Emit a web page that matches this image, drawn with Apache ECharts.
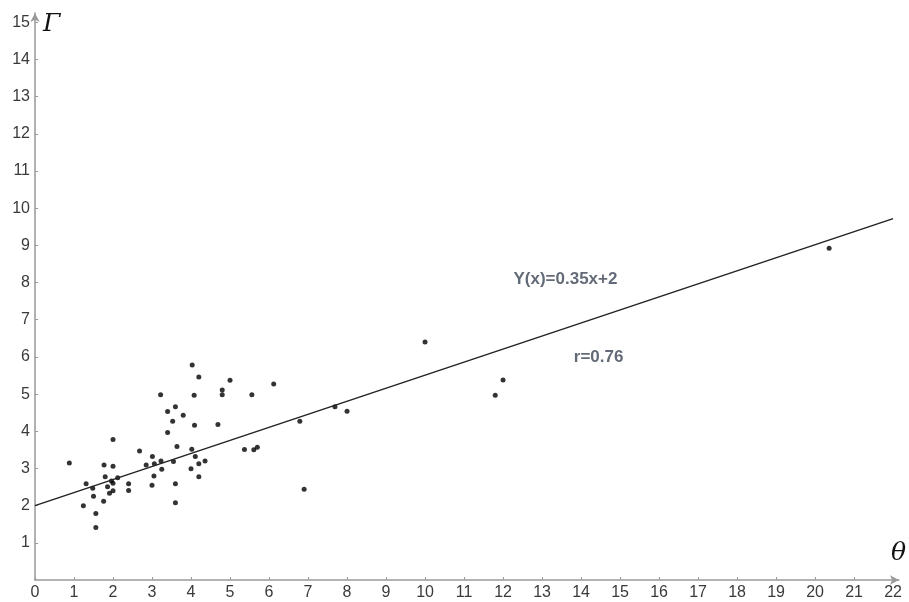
<!DOCTYPE html>
<html>
<head>
<meta charset="utf-8">
<script src="https://cdn.jsdelivr.net/npm/echarts@6/dist/echarts.min.js"></script>
<style>
    html, body { margin: 0; padding: 0; background: #fff; }
    #scatterChart { width: 909px; height: 602px; }
</style>
</head>
<body>
<div id="scatterChart"></div>
<script>
    // measured points (theta, gamma)
    let thetaValues = [4.03, 4.2, 3.22, 4.08, 3.6, 3.4, 3.8, 3.53, 4.09, 3.4, 4.69, 2.0, 3.64, 4.02, 2.68,
        0.88, 1.77, 2.0, 3.01, 2.85, 3.06, 3.23, 3.55, 4.11, 4.36, 4.2, 3.25, 4.0, 3.05, 4.2,
        1.8, 2.12, 1.96, 2.0, 1.31, 2.4, 1.86, 3.0, 3.6, 1.48, 2.0, 1.91, 2.4, 1.5, 1.76,
        1.24, 3.6, 1.56, 1.56, 5.0, 6.12, 4.8, 4.8, 5.56, 5.37, 5.61, 5.7, 6.79, 7.69, 8.0,
        6.9, 10.0, 12.0, 11.8, 20.36]
    let gammaValues = [5.78, 5.46, 4.98, 4.97, 4.66, 4.53, 4.43, 4.27, 4.16, 3.97, 4.18, 3.78, 3.59, 3.52, 3.47,
        3.15, 3.09, 3.06, 3.32, 3.09, 3.13, 3.2, 3.19, 3.32, 3.2, 3.13, 2.98, 2.99, 2.8, 2.78,
        2.78, 2.75, 2.66, 2.6, 2.59, 2.59, 2.51, 2.55, 2.59, 2.47, 2.4, 2.33, 2.41, 2.25, 2.12,
        2.0, 2.08, 1.79, 1.41, 5.37, 5.27, 5.11, 4.98, 4.98, 3.51, 3.5, 3.57, 4.27, 4.66, 4.54,
        2.44, 6.4, 5.38, 4.97, 8.92]

    // fitted line Y(x)=0.35x+2, end points
    let fitX = [0, 22]
    let fitY = [2.0, 9.72]

    let xTicks = [0, 1, 2, 3, 4, 5, 6, 7, 8, 9, 10, 11, 12, 13, 14, 15, 16, 17, 18, 19, 20, 21, 22]
    let yTicks = [1, 2, 3, 4, 5, 6, 7, 8, 9, 10, 11, 12, 13, 14, 15]

    let noteTexts = ['Y(x)=0.35x+2', 'r=0.76']
    let noteX = [13.6, 14.45]
    let noteY = [8.1, 6.0]

    let points = []
    for (let i in thetaValues) {
        points.push([thetaValues[i], gammaValues[i]])
    }
    let fitLine = []
    for (let i in fitX) {
        fitLine.push([fitX[i], fitY[i]])
    }
    let notes = []
    for (let i in noteTexts) {
        notes.push({ value: [noteX[i], noteY[i]], name: noteTexts[i] })
    }

    let axisColor = '#9a9a9a'
    let labelStyle = {
        color: '#3a3a3a',
        fontSize: 16,
        fontFamily: 'Liberation Sans'
    }

    let myChart = echarts.init(document.getElementById('scatterChart'))
    myChart.setOption({
        animation: false,
        backgroundColor: '#fff',
        grid: {
            left: 35,
            right: 10,
            top: 13,
            bottom: 22,
            containLabel: false
        },
        xAxis: {
            type: 'value',
            min: 0,
            max: 22.15,
            name: 'θ',
            nameLocation: 'end',
            nameGap: -8,
            nameTextStyle: {
                color: '#111',
                fontSize: 25,
                fontStyle: 'italic',
                fontFamily: 'DejaVu Serif',
                verticalAlign: 'bottom',
                padding: [0, 0, 14, 0]
            },
            splitLine: { show: false },
            axisLine: {
                onZero: false,
                symbol: ['none', 'arrow'],
                symbolSize: [7, 9],
                lineStyle: { color: axisColor, width: 1.5 }
            },
            axisTick: {
                customValues: xTicks,
                length: 3,
                inside: true,
                lineStyle: { color: axisColor }
            },
            axisLabel: Object.assign({
                customValues: xTicks,
                margin: 5,
                showMaxLabel: true
            }, labelStyle)
        },
        yAxis: {
            type: 'value',
            min: 0,
            max: 15.25,
            name: 'Γ',
            nameLocation: 'end',
            nameGap: -24,
            nameTextStyle: {
                color: '#111',
                fontSize: 25,
                fontStyle: 'italic',
                fontFamily: 'DejaVu Serif',
                align: 'left',
                padding: [0, 0, 0, 8]
            },
            splitLine: { show: false },
            axisLine: {
                onZero: false,
                symbol: ['none', 'arrow'],
                symbolSize: [7, 9],
                lineStyle: { color: axisColor, width: 1.5 }
            },
            axisTick: {
                customValues: yTicks,
                length: 3,
                inside: true,
                lineStyle: { color: axisColor }
            },
            axisLabel: Object.assign({
                customValues: yTicks,
                margin: 5
            }, labelStyle)
        },
        series: [{
            name: 'fit',
            type: 'line',
            data: fitLine,
            symbol: 'none',
            silent: true,
            lineStyle: { color: '#222', width: 1.5 }
        }, {
            name: 'points',
            type: 'scatter',
            data: points,
            symbolSize: 5,
            itemStyle: { color: '#000' }
        }, {
            name: 'notes',
            type: 'scatter',
            data: notes,
            symbolSize: 0,
            silent: true,
            label: {
                show: true,
                position: 'inside',
                formatter: '{b}',
                color: '#3d4656',
                fontSize: 17,
                fontWeight: 'bold',
                fontFamily: 'Liberation Sans'
            }
        }]
    })
</script>
</body>
</html>
